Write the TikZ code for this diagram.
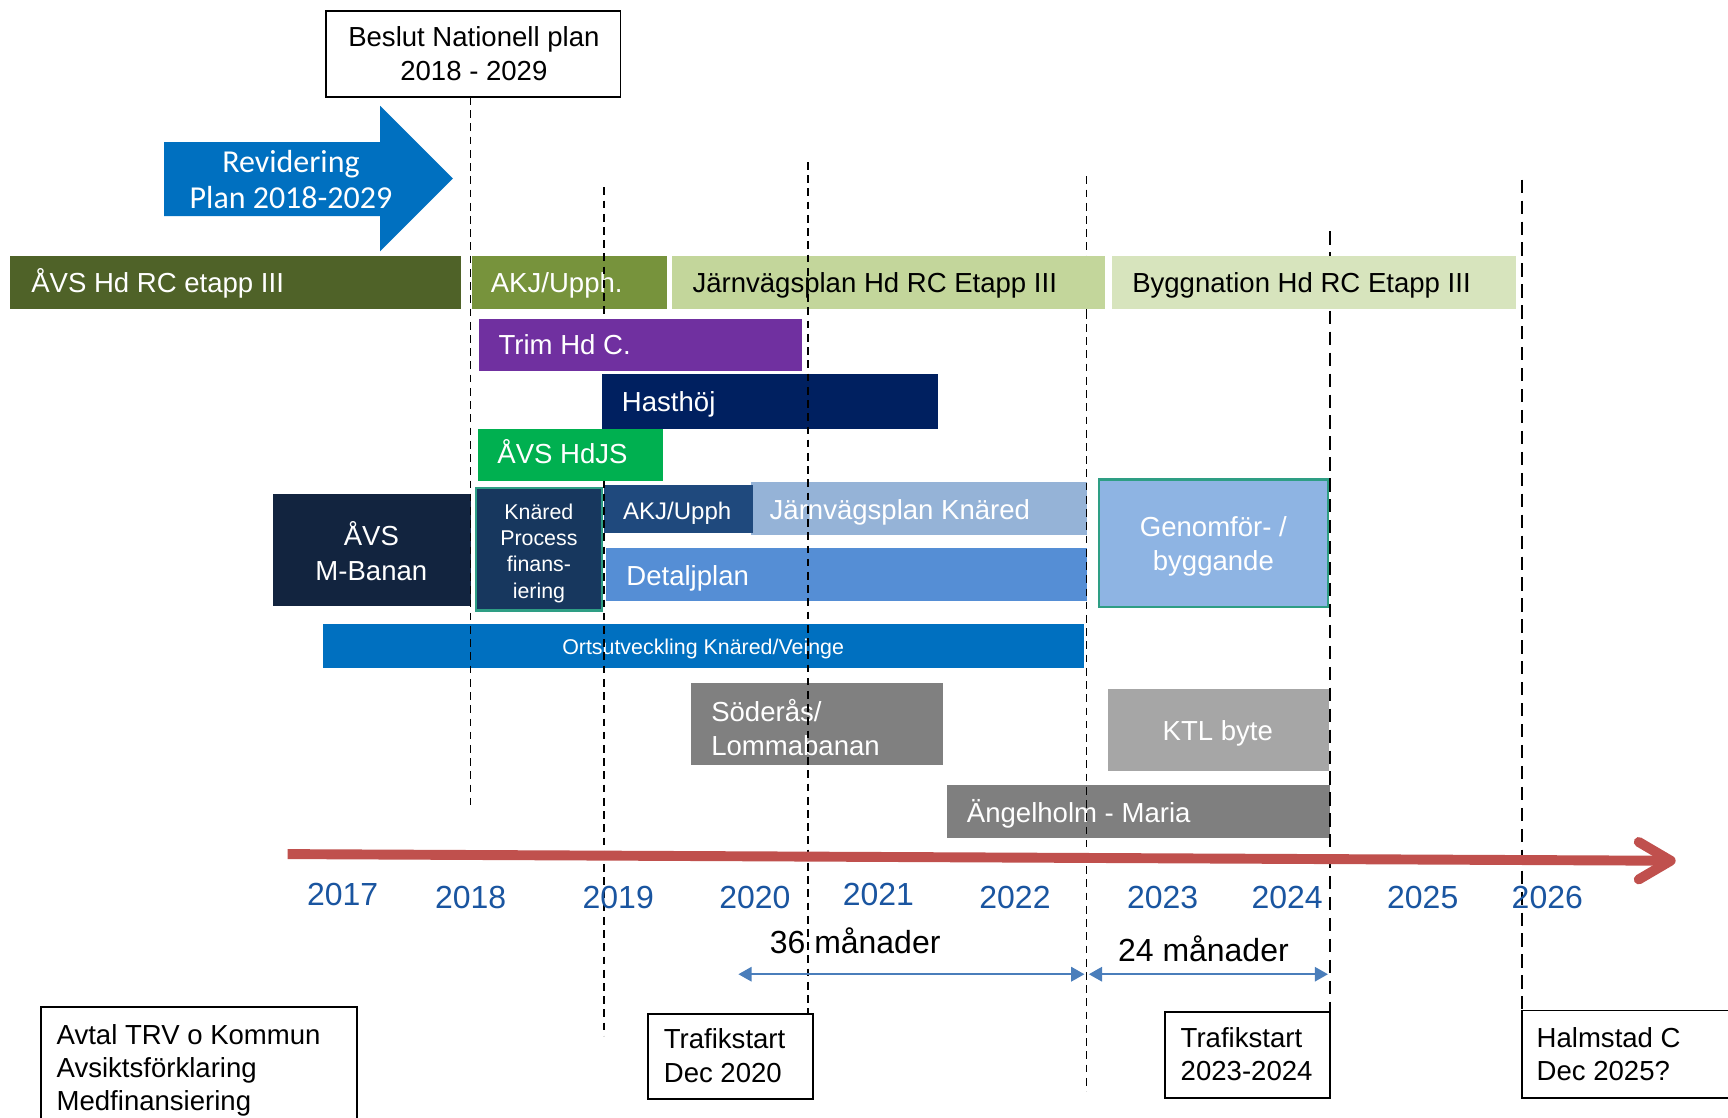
\documentclass[tikz,border=0pt]{standalone}
\usepackage{fontspec}
\setmainfont{Liberation Sans}
\newfontfamily\calibrilike{Carlito}
\usetikzlibrary{arrows.meta}

\definecolor{avsolive}{HTML}{4F6228}
\definecolor{akjgreen}{HTML}{77933C}
\definecolor{jvpgreen}{HTML}{C3D69B}
\definecolor{byggreen}{HTML}{D7E4BD}
\definecolor{trimpurple}{HTML}{7030A0}
\definecolor{hastnavy}{HTML}{002060}
\definecolor{hdjsgreen}{HTML}{00B050}
\definecolor{mbanan}{HTML}{12243F}
\definecolor{knared}{HTML}{17375E}
\definecolor{tealedge}{HTML}{2E9E84}
\definecolor{akjblue}{HTML}{1F497D}
\definecolor{jvpblue}{HTML}{95B3D7}
\definecolor{detblue}{HTML}{558ED5}
\definecolor{genblue}{HTML}{8EB4E3}
\definecolor{ortsblue}{HTML}{0070C0}
\definecolor{soderas}{HTML}{808080}
\definecolor{ktlgrey}{HTML}{A6A6A6}
\definecolor{angelgrey}{HTML}{7F7F7F}
\definecolor{timered}{HTML}{C0504D}
\definecolor{yearblue}{HTML}{1A55A0}
\definecolor{spanblue}{HTML}{4A7EBB}

\tikzset{
  lbl/.style={inner sep=0pt, text=white, font=\fontsize{12.5}{15.5}\selectfont},
  lbldark/.style={lbl, text=black},
  small/.style={inner sep=0pt, text=white, font=\fontsize{9.7}{12}\selectfont},
  year/.style={inner sep=0pt, text=yearblue, font=\fontsize{14.5}{17}\selectfont, anchor=base},
  months/.style={inner sep=0pt, text=black, font=\fontsize{14.5}{17}\selectfont, anchor=base},
  guide/.style={draw=black, line width=0.7pt, dash pattern=on 3.5pt off 2.5pt},
  guidebold/.style={draw=black, line width=1.1pt, dash pattern=on 6pt off 3.5pt},
  note/.style={draw=black, line width=0.8pt},
  span/.style={draw=spanblue, line width=1pt,
    {Triangle[length=6pt,width=6.5pt]}-{Triangle[length=6pt,width=6.5pt]}},
  timeline/.style={draw=timered, line width=4.5pt},
}

\begin{document}
\begin{tikzpicture}[x=0.5pt,y=-0.5pt]
\useasboundingbox (0,0) rectangle (1568,1014);
\clip (0,0) rectangle (1568,1014);
\fill[white] (0,0) rectangle (1568,1014);

% decision box at the top
\draw[note] (296,10) rectangle (563,88);
\node[lbldark, align=center] (beslut) at (430,48.5) {Beslut Nationell plan\\2018 - 2029};

% revision arrow
\fill[ortsblue] (149,129) -- (345,129) -- (345,96) -- (411,162) -- (345,228)
  -- (345,196) -- (149,196) -- cycle;
\node[inner sep=0pt, text=white, align=center,
  font=\calibrilike\fontsize{14.5}{16.5}\selectfont] (revid) at (264,163)
  {Revidering\\Plan 2018-2029};

% vertical guides: end points
\coordinate (g1t) at (427,88);   \coordinate (g1b) at (427,730);
\coordinate (g2t) at (548,170);  \coordinate (g2m) at (548,289);
\coordinate (g2n) at (548,436);  \coordinate (g2b) at (548,940);
\coordinate (g3t) at (733,147);  \coordinate (g3b) at (733,920);
\coordinate (g4t) at (986,160);  \coordinate (g4b) at (986,990);
\coordinate (g5t) at (1207,210); \coordinate (g5b) at (1207,918);
\coordinate (g6t) at (1381,163); \coordinate (g6b) at (1381,917);

% the 2022 and 2024 guides run behind the top row
\draw[guide] (g4t) -- (986,282);
\draw[guidebold] (g5t) -- (1207,282);

% row 1: Hd RC etapp III
\fill[avsolive] (9,232) rectangle (418,280);
\node[lbl, anchor=base west] (avsrc) at (28,265) {ÅVS Hd RC etapp III};
\fill[akjgreen] (428,232) rectangle (605,280);
\node[lbl, anchor=base west] (akjrc) at (445,265) {AKJ/Upph.};
\fill[jvpgreen] (610,232) rectangle (1003,280);
\node[lbldark, anchor=base west] (jvprc) at (628,265) {Järnvägsplan Hd RC Etapp III};
\fill[byggreen] (1009,232) rectangle (1376,280);
\node[lbldark, anchor=base west] (byggrc) at (1027,265) {Byggnation Hd RC Etapp III};

% upper part of the 2019 guide, covered by the bars below it
\draw[guide] (g2t) -- (g2m);

% rows 2-4
\fill[trimpurple] (435,289) rectangle (728,337);
\node[lbl, anchor=base west] (trim) at (452,322) {Trim Hd C.};
\fill[hastnavy] (546,339) rectangle (851,389);
\node[lbl, anchor=base west] (hast) at (564,373) {Hasthöj};
\fill[hdjsgreen] (434,389) rectangle (602,436);
\node[lbl, anchor=base west] (hdjs) at (451,421) {ÅVS HdJS};

% Knäred block
\fill[mbanan] (248,448) rectangle (427,550);
\node[lbl, align=center] (mbanan) at (337,500) {ÅVS\\M-Banan};
\filldraw[fill=knared, draw=tealedge, line width=1pt] (432,443) rectangle (546,554);
\node[small, align=center] (process) at (489,502) {Knäred\\Process\\finans-\\iering};
\fill[jvpblue] (681,437) rectangle (986,485);
\fill[akjblue] (548,440) rectangle (683,484);
\node[inner sep=0pt, text=white, font=\fontsize{10.9}{13}\selectfont, anchor=base west]
  (akjk) at (565,471) {AKJ/Upph};
\node[lbl, anchor=base west] (jvpk) at (698,471) {Järnvägsplan Knäred};
\fill[detblue] (550,497) rectangle (986,545);
\node[lbl, anchor=base west] (detalj) at (568,531) {Detaljplan};
\filldraw[fill=genblue, draw=tealedge, line width=1pt] (997,435) rectangle (1205,551);
\node[lbl, align=center] (genom) at (1101,496) {Genomför- /\\byggande};

\fill[ortsblue] (293,566) rectangle (984,606);
\node[small, anchor=base] (orts) at (638,594) {Ortsutveckling Knäred/Veinge};

% lower rows
\fill[soderas] (627,620) rectangle (856,694);
\node[lbl, align=left, anchor=north west] (soder) at (645,634) {Söderås/\\Lommabanan};
\fill[ktlgrey] (1005,625) rectangle (1206,700);
\node[lbl, anchor=base] (ktl) at (1105,672) {KTL byte};
\fill[angelgrey] (859,712) rectangle (1207,760);
\node[lbl, anchor=base west] (angel) at (877,746) {Ängelholm - Maria};

% vertical guides drawn over the bars
\draw[guide] (g1t) -- (g1b);
\draw[guide] (g2n) -- (g2b);
\draw[guide] (g3t) -- (g3b);
\draw[guide] (986,282) -- (g4b);
\draw[guidebold] (1207,282) -- (g5b);
\draw[guidebold] (g6t) -- (g6b);

% time axis
\coordinate (tl0) at (261,775);
\coordinate (tl1) at (1508,781);
\coordinate (tltip) at (1516,781);
\draw[timeline] (tl0) -- (tl1);
\draw[timeline, line cap=round, line join=round] (1487,764) -- (tltip) -- (1487,798);

\node[year] (y17) at (311,822) {2017};
\node[year] (y18) at (427,824) {2018};
\node[year] (y19) at (561,824) {2019};
\node[year] (y20) at (685,824) {2020};
\node[year] (y21) at (797,822) {2021};
\node[year] (y22) at (921,824) {2022};
\node[year] (y23) at (1055,824) {2023};
\node[year] (y24) at (1168,824) {2024};
\node[year] (y25) at (1291,824) {2025};
\node[year] (y26) at (1404,824) {2026};

% durations
\node[months] (m36) at (776,865) {36 månader};
\node[months] (m24) at (1092,872) {24 månader};
\coordinate (s36a) at (670,884); \coordinate (s36b) at (984,884);
\coordinate (s24a) at (988,884); \coordinate (s24b) at (1205,884);
\draw[span] (s36a) -- (s36b);
\draw[span] (s24a) -- (s24b);

% milestone notes
\draw[note] (37,914) rectangle (324,1040);
\node[lbldark, align=left, anchor=north west, font=\fontsize{12.5}{15}\selectfont]
  (avtal) at (51,929) {Avtal TRV o Kommun\\Avsiktsförklaring\\Medfinansiering};
\draw[note] (588,920) rectangle (738,997);
\node[lbldark, align=left, anchor=north west] (tsA) at (602,933) {Trafikstart\\Dec 2020};
\draw[note] (1057,918) rectangle (1207,996);
\node[lbldark, align=left, anchor=north west, font=\fontsize{12.5}{15}\selectfont]
  (tsB) at (1071,932) {Trafikstart\\2023-2024};
\draw[note] (1381,917) rectangle (1600,996);
\node[lbldark, align=left, anchor=north west, font=\fontsize{12.5}{15}\selectfont]
  (halm) at (1394,932) {Halmstad C\\Dec 2025?};
\end{tikzpicture}
\end{document}
